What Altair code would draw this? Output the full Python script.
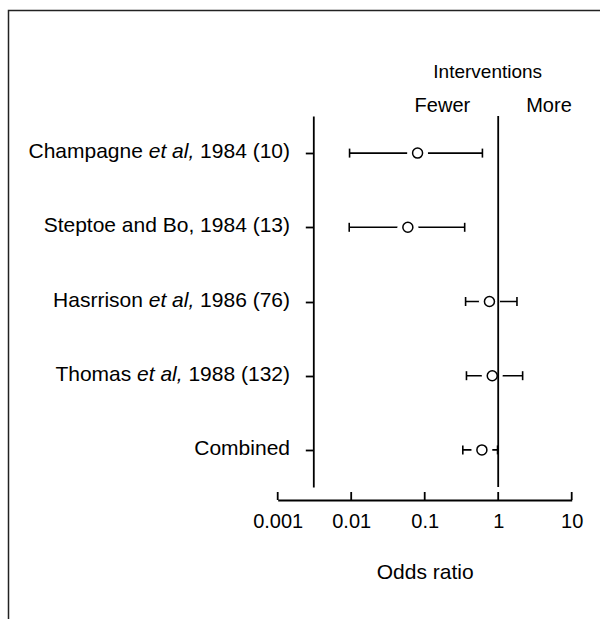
import altair as alt
import pandas as pd

# Studies, top to bottom
lead_names = ["Champagne", "Steptoe and Bo", "Hasrrison", "Thomas", "Combined"]
has_et_al = [True, False, True, True, False]
years = ["1984", "1984", "1986", "1988", ""]
n_subjects = ["10", "13", "76", "132", ""]

# Odds ratios with confidence limits
odds_ratio = [0.08, 0.059, 0.76, 0.83, 0.60]
ci_low = [0.0095, 0.0094, 0.36, 0.37, 0.33]
ci_high = [0.61, 0.35, 1.8, 2.15, 0.98]

# Axis tick values
axis_ticks = [0.001, 0.01, 0.1, 1, 10]

FONT = "Liberation Sans"
LABEL_SIZE = 21
W, H = 294, 371
LEFT, TOP = 277.7, 116

# Advance widths (per 1000 em) of Liberation Sans, regular and italic alike
ADV = {" ": 278, "(": 333, ")": 333, ",": 278, "C": 722, "H": 722, "T": 611,
       "a": 556, "e": 556, "g": 556, "h": 556, "i": 222, "l": 222, "m": 833,
       "n": 556, "o": 556, "p": 556, "r": 333, "s": 500, "t": 278}


def text_width(s, size=LABEL_SIZE):
    return sum(ADV.get(c, 556) for c in s) * size / 1000.0


def full_label(i):
    if has_et_al[i]:
        return f"{lead_names[i]} et al, {years[i]} ({n_subjects[i]})"
    if years[i]:
        return f"{lead_names[i]}, {years[i]} ({n_subjects[i]})"
    return lead_names[i]


studies = [full_label(i) for i in range(len(lead_names))]

df = pd.DataFrame({"study": studies, "or": odds_ratio, "low": ci_low, "high": ci_high})

# Row labels are split so that "et al," can be set in italics
anchor = 290 - LEFT
space = text_width(" ")
pieces = []
for i, study in enumerate(studies):
    if has_et_al[i]:
        suffix = f"{years[i]} ({n_subjects[i]})"
        x_it = anchor - text_width(suffix) - space
        x_lead = x_it - text_width("et al,") - space
        pieces += [
            {"study": study, "text": lead_names[i], "px": x_lead, "italic": False},
            {"study": study, "text": "et al,", "px": x_it, "italic": True},
            {"study": study, "text": suffix, "px": anchor, "italic": False},
        ]
    else:
        pieces.append({"study": study, "text": study, "px": anchor, "italic": False})
labels_df = pd.DataFrame(pieces)

xscale = alt.Scale(type="log", domain=[0.001, 10], nice=False)
xaxis = alt.Axis(values=axis_ticks, format="~g", offset=13, ticks=False, grid=False,
                 domainColor="black", domainWidth=1.8, labelFont=FONT, labelFontSize=20,
                 labelColor="black", labelPadding=11, labelFlush=False,
                 title="Odds ratio", titleFont=FONT, titleFontSize=21,
                 titleFontWeight="normal", titleColor="black", titlePadding=30)
yscale = alt.Scale(type="point", domain=studies, padding=0.5)
yaxis = alt.Axis(title=None, labels=False, offset=-35.6, tickSize=8, tickWidth=1.8,
                 tickColor="black", domainColor="black", domainWidth=1.8, grid=False)


def xq(field):
    return alt.X(field, type="quantitative", scale=xscale, axis=xaxis)


y_enc = alt.Y("study:N", scale=yscale, axis=yaxis)
one_row = alt.Data(values=[{}])

frame = alt.Chart(one_row).mark_rect(fillOpacity=0, stroke="#222", strokeWidth=1.5).encode(
    x=alt.value(8.5 - LEFT), x2=alt.value(640), y=alt.value(10.5 - TOP), y2=alt.value(620)
)

base = alt.Chart(df)
whiskers = base.mark_rule(color="black", strokeWidth=1.6).encode(
    x=xq("low"), x2="high:Q", y=y_enc
)
cap_low = base.mark_tick(color="black", size=9, thickness=1.6, opacity=1).encode(
    x=xq("low"), y=y_enc
)
cap_high = base.mark_tick(color="black", size=9, thickness=1.6, opacity=1).encode(
    x=xq("high"), y=y_enc
)
mask = base.mark_point(shape="circle", filled=True, color="white", size=441, opacity=1).encode(
    x=xq("or"), y=y_enc
)
points = base.mark_point(shape="circle", filled=False, color="black", strokeWidth=1.5,
                         size=100, opacity=1).encode(x=xq("or"), y=y_enc)

# No-effect line at an odds ratio of 1
unity = alt.Chart(one_row).mark_rule(color="black", strokeWidth=1.8).encode(
    x=alt.X(datum=1, type="quantitative", scale=xscale, axis=xaxis),
    y=alt.value(0), y2=alt.value(H)
)

# Upward tick marks on the odds-ratio axis
ticks_df = pd.DataFrame({"tick": axis_ticks})
up_ticks = alt.Chart(ticks_df).mark_rule(color="black", strokeWidth=1.8).encode(
    x=xq("tick"), y=alt.value(H + 13 - 8), y2=alt.value(H + 13)
)

normal_labels = alt.Chart(labels_df).transform_filter("!datum.italic").mark_text(
    align="right", baseline="alphabetic", dy=5, font=FONT, fontSize=LABEL_SIZE, color="black"
).encode(x=alt.X("px:Q", scale=None, axis=None), y=y_enc, text="text:N")
italic_labels = alt.Chart(labels_df).transform_filter("datum.italic").mark_text(
    align="right", baseline="alphabetic", dy=5, font=FONT, fontSize=LABEL_SIZE,
    fontStyle="italic", color="black"
).encode(x=alt.X("px:Q", scale=None, axis=None), y=y_enc, text="text:N")


def header(text, align, dx, y, size):
    return alt.Chart(one_row).mark_text(
        text=text, align=align, baseline="alphabetic", dx=dx, font=FONT,
        fontSize=size, color="black"
    ).encode(x=alt.X(datum=1, type="quantitative", scale=xscale, axis=xaxis), y=alt.value(y))


head_main = header("Interventions", "center", -10.5, 78 - TOP, 19)
head_fewer = header("Fewer", "right", -28, 112 - TOP, 20)
head_more = header("More", "left", 28, 112 - TOP, 20)

chart = alt.layer(
    frame, whiskers, cap_low, cap_high, mask, points, unity, up_ticks,
    normal_labels, italic_labels, head_main, head_fewer, head_more
).properties(
    width=W, height=H,
    autosize=alt.AutoSizeParams(type="none"),
    padding={"left": LEFT, "top": TOP, "right": 600 - LEFT - W, "bottom": 619 - TOP - H},
    background="white",
).configure_view(stroke="transparent")

chart.save("out.html", embed_options={"renderer": "svg", "actions": False})
